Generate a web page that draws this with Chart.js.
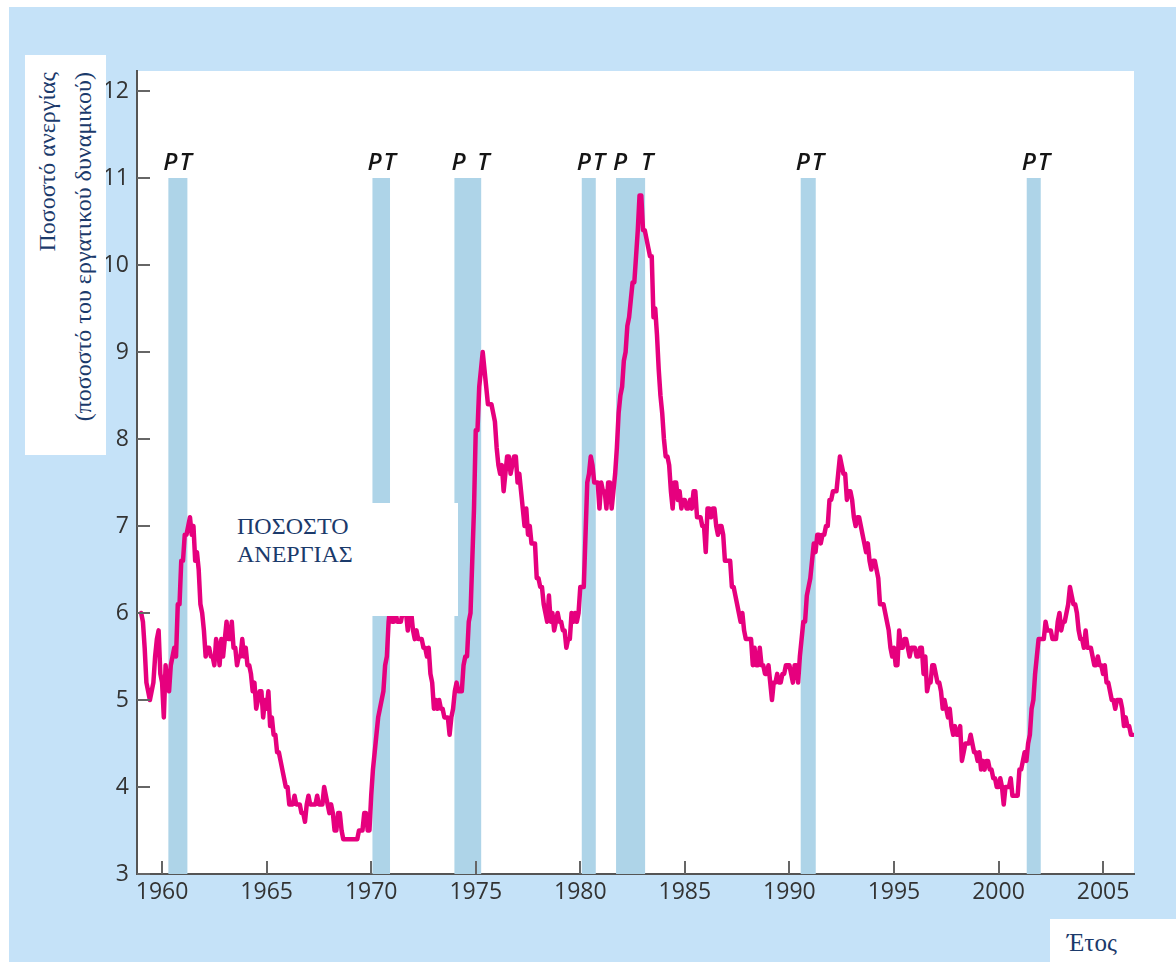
<!DOCTYPE html>
<html>
<head>
<meta charset="utf-8">
<script src="https://cdn.jsdelivr.net/npm/chart.js@4"></script>
<style>
  body { margin: 0; background: #fff; }
  #bg { position: absolute; left: 9px; top: 7px; width: 1167px; height: 955px; background: #c5e2f8; }
  #myChart { position: absolute; left: 0; top: 0; }
  .box { position: absolute; background: #fff; font-family: "Liberation Serif", "Times New Roman", serif; color: #1b3a6b; font-size: 24px; }
  #ytitle { left: 25px; top: 55px; width: 81px; height: 400px; overflow: hidden; }
  #ytitle .inner { position: absolute; left: 0; top: 0; width: 383px; height: 81px; padding-top: 4px; line-height: 36px;
    text-align: right; white-space: nowrap; transform-origin: 0 0; transform: translate(0, 400px) rotate(-90deg); }
  #note { left: 220px; top: 503px; width: 238px; height: 113px; padding: 9px 0 0 17px; box-sizing: border-box; line-height: 28px; }
  #xtitle { left: 1050px; top: 919px; width: 126px; height: 43px; padding: 10px 0 0 17px; box-sizing: border-box; line-height: 28px; font-size: 25px; }
</style>
</head>
<body>
<div id="bg"></div>
<canvas id="myChart" width="1176" height="962"></canvas>
<div class="box" id="ytitle"><div class="inner">Ποσοστό ανεργίας<br>(ποσοστό του εργατικού δυναμικού)</div></div>
<div class="box" id="note">ΠΟΣΟΣΤΟ<br>ΑΝΕΡΓΙΑΣ</div>
<div class="box" id="xtitle">Έτος</div>
<script>
// Μηνιαίο ποσοστό ανεργίας, από Ιαν. 1959
const startYear = 1959;
const rates1959to1964 = [
  6.0, 5.9, 5.6, 5.2, 5.1, 5.0, 5.1, 5.2, 5.5, 5.7, 5.8, 5.3,
  5.2, 4.8, 5.4, 5.2, 5.1, 5.4, 5.5, 5.6, 5.5, 6.1, 6.1, 6.6,
  6.6, 6.9, 6.9, 7.0, 7.1, 6.9, 7.0, 6.6, 6.7, 6.5, 6.1, 6.0,
  5.8, 5.5, 5.6, 5.6, 5.5, 5.5, 5.4, 5.7, 5.6, 5.4, 5.7, 5.5,
  5.7, 5.9, 5.7, 5.7, 5.9, 5.6, 5.6, 5.4, 5.5, 5.5, 5.7, 5.5,
  5.6, 5.4, 5.4, 5.3, 5.1, 5.2, 4.9, 5.0, 5.1, 5.1, 4.8, 5.0
];
const rates1965to1974 = [
  4.9, 5.1, 4.7, 4.8, 4.6, 4.6, 4.4, 4.4, 4.3, 4.2, 4.1, 4.0,
  4.0, 3.8, 3.8, 3.8, 3.9, 3.8, 3.8, 3.8, 3.7, 3.7, 3.6, 3.8,
  3.9, 3.8, 3.8, 3.8, 3.8, 3.9, 3.8, 3.8, 3.8, 4.0, 3.9, 3.8,
  3.7, 3.8, 3.7, 3.5, 3.5, 3.7, 3.7, 3.5, 3.4, 3.4, 3.4, 3.4,
  3.4, 3.4, 3.4, 3.4, 3.4, 3.5, 3.5, 3.5, 3.7, 3.7, 3.5, 3.5,
  3.9, 4.2, 4.4, 4.6, 4.8, 4.9, 5.0, 5.1, 5.4, 5.5, 5.9, 6.1,
  5.9, 5.9, 6.0, 5.9, 5.9, 5.9, 6.0, 6.1, 6.0, 5.8, 6.0, 6.0,
  5.8, 5.7, 5.8, 5.7, 5.7, 5.7, 5.6, 5.6, 5.5, 5.6, 5.3, 5.2,
  4.9, 5.0, 4.9, 5.0, 4.9, 4.9, 4.8, 4.8, 4.8, 4.6, 4.8, 4.9,
  5.1, 5.2, 5.1, 5.1, 5.1, 5.4, 5.5, 5.5, 5.9, 6.0, 6.6, 7.2
];
const rates1975to1984 = [
  8.1, 8.1, 8.6, 8.8, 9.0, 8.8, 8.6, 8.4, 8.4, 8.4, 8.3, 8.2,
  7.9, 7.7, 7.6, 7.7, 7.4, 7.6, 7.8, 7.8, 7.6, 7.7, 7.8, 7.8,
  7.5, 7.6, 7.4, 7.2, 7.0, 7.2, 6.9, 7.0, 6.8, 6.8, 6.8, 6.4,
  6.4, 6.3, 6.3, 6.1, 6.0, 5.9, 6.2, 5.9, 6.0, 5.8, 5.9, 6.0,
  5.9, 5.9, 5.8, 5.8, 5.6, 5.7, 5.7, 6.0, 5.9, 6.0, 5.9, 6.0,
  6.3, 6.3, 6.3, 6.9, 7.5, 7.6, 7.8, 7.7, 7.5, 7.5, 7.5, 7.2,
  7.5, 7.4, 7.4, 7.2, 7.5, 7.5, 7.2, 7.4, 7.6, 7.9, 8.3, 8.5,
  8.6, 8.9, 9.0, 9.3, 9.4, 9.6, 9.8, 9.8, 10.1, 10.4, 10.8, 10.8,
  10.4, 10.4, 10.3, 10.2, 10.1, 10.1, 9.4, 9.5, 9.2, 8.8, 8.5, 8.3,
  8.0, 7.8, 7.8, 7.7, 7.4, 7.2, 7.5, 7.5, 7.3, 7.4, 7.2, 7.3
];
const rates1985to1994 = [
  7.3, 7.2, 7.2, 7.3, 7.2, 7.4, 7.4, 7.1, 7.1, 7.1, 7.0, 7.0,
  6.7, 7.2, 7.2, 7.1, 7.2, 7.2, 7.0, 6.9, 7.0, 7.0, 6.9, 6.6,
  6.6, 6.6, 6.6, 6.3, 6.3, 6.2, 6.1, 6.0, 5.9, 6.0, 5.8, 5.7,
  5.7, 5.7, 5.7, 5.4, 5.6, 5.4, 5.4, 5.6, 5.4, 5.4, 5.3, 5.3,
  5.4, 5.2, 5.0, 5.2, 5.2, 5.3, 5.2, 5.2, 5.3, 5.3, 5.4, 5.4,
  5.4, 5.3, 5.2, 5.4, 5.4, 5.2, 5.5, 5.7, 5.9, 5.9, 6.2, 6.3,
  6.4, 6.6, 6.8, 6.7, 6.9, 6.9, 6.8, 6.9, 6.9, 7.0, 7.0, 7.3,
  7.3, 7.4, 7.4, 7.4, 7.6, 7.8, 7.7, 7.6, 7.6, 7.3, 7.4, 7.4,
  7.3, 7.1, 7.0, 7.1, 7.1, 7.0, 6.9, 6.8, 6.7, 6.8, 6.6, 6.5,
  6.6, 6.6, 6.5, 6.4, 6.1, 6.1, 6.1, 6.0, 5.9, 5.8, 5.6, 5.5
];
const rates1995to2006 = [
  5.6, 5.4, 5.4, 5.8, 5.6, 5.6, 5.7, 5.7, 5.6, 5.5, 5.6, 5.6,
  5.6, 5.5, 5.5, 5.6, 5.6, 5.3, 5.5, 5.1, 5.2, 5.2, 5.4, 5.4,
  5.3, 5.2, 5.2, 5.1, 4.9, 5.0, 4.9, 4.8, 4.9, 4.7, 4.6, 4.7,
  4.6, 4.6, 4.7, 4.3, 4.4, 4.5, 4.5, 4.5, 4.6, 4.5, 4.4, 4.4,
  4.3, 4.4, 4.2, 4.3, 4.2, 4.3, 4.3, 4.2, 4.2, 4.1, 4.1, 4.0,
  4.0, 4.1, 4.0, 3.8, 4.0, 4.0, 4.0, 4.1, 3.9, 3.9, 3.9, 3.9,
  4.2, 4.2, 4.3, 4.4, 4.3, 4.5, 4.6, 4.9, 5.0, 5.3, 5.5, 5.7,
  5.7, 5.7, 5.7, 5.9, 5.8, 5.8, 5.8, 5.7, 5.7, 5.7, 5.9, 6.0,
  5.8, 5.9, 5.9, 6.0, 6.1, 6.3, 6.2, 6.1, 6.1, 6.0, 5.8, 5.7,
  5.7, 5.6, 5.8, 5.6, 5.6, 5.6, 5.5, 5.4, 5.4, 5.5, 5.4, 5.4,
  5.3, 5.4, 5.2, 5.2, 5.1, 5.0, 5.0, 4.9, 5.0, 5.0, 5.0, 4.9,
  4.7, 4.8, 4.7, 4.7, 4.6, 4.6
];

// Υφέσεις: P = κορυφή, T = κατώτατο σημείο
const recessionPeaks   = [1960.30, 1970.06, 1973.98, 1980.07, 1981.71, 1990.54, 2001.35];
const recessionTroughs = [1961.21, 1970.90, 1975.26, 1980.74, 1983.10, 1991.26, 2002.02];
const bandTop = 11;

const yearTicks = [1960, 1965, 1970, 1975, 1980, 1985, 1990, 1995, 2000, 2005];
const rateTicks = [3, 4, 5, 6, 7, 8, 9, 10, 11, 12];

const rates = [].concat(rates1959to1964, rates1965to1974, rates1975to1984, rates1985to1994, rates1995to2006);
const points = rates.map((v, i) => ({ x: startYear + i / 12, y: v }));

const tickFont = { family: '"Open Sans", sans-serif', size: 23 };

// λευκό φόντο στην περιοχή του γραφήματος
const plotBackground = {
  id: 'plotBackground',
  beforeDraw(chart) {
    const a = chart.chartArea, ctx = chart.ctx;
    ctx.save();
    ctx.fillStyle = '#ffffff';
    ctx.fillRect(a.left, a.top, a.right - a.left, a.bottom - a.top);
    ctx.restore();
  }
};

// μπλε λωρίδες υφέσεων και ετικέτες P T
const recessionBands = {
  id: 'recessionBands',
  beforeDatasetsDraw(chart) {
    const ctx = chart.ctx, x = chart.scales.x, y = chart.scales.y;
    const yTop = y.getPixelForValue(bandTop), yBot = y.getPixelForValue(y.min);
    ctx.save();
    recessionPeaks.forEach((p, i) => {
      const x1 = x.getPixelForValue(p), x2 = x.getPixelForValue(recessionTroughs[i]);
      ctx.fillStyle = '#aed4e8';
      ctx.fillRect(x1, yTop, x2 - x1, yBot - yTop);
      ctx.fillStyle = '#151515';
      ctx.font = 'italic 600 24px "Open Sans", sans-serif';
      ctx.textBaseline = 'alphabetic';
      ctx.textAlign = 'left';
      const base = yTop - 8;
      if (x2 - x1 < 22) {
        ctx.letterSpacing = '2px';
        ctx.fillText('PT', x1 - 5, base);
        ctx.letterSpacing = '0px';
      } else {
        ctx.fillText('P', x1 - 3, base);
        ctx.fillText('T', x2 - 4, base);
      }
    });
    ctx.restore();
  }
};

// μικρές γραμμές υποδιαιρέσεων προς τα μέσα
const innerTicks = {
  id: 'innerTicks',
  afterDatasetsDraw(chart) {
    const ctx = chart.ctx, x = chart.scales.x, y = chart.scales.y, a = chart.chartArea;
    ctx.save();
    ctx.strokeStyle = '#666';
    ctx.lineWidth = 2;
    ctx.beginPath();
    x.ticks.forEach(t => {
      const px = Math.round(x.getPixelForValue(t.value));
      ctx.moveTo(px, a.bottom);
      ctx.lineTo(px, a.bottom - 13);
    });
    y.ticks.forEach(t => {
      const py = Math.round(y.getPixelForValue(t.value));
      ctx.moveTo(a.left, py);
      ctx.lineTo(a.left + 13, py);
    });
    ctx.stroke();
    ctx.restore();
  }
};

const ctx = document.getElementById('myChart').getContext('2d');
const chart = new Chart(ctx, {
  type: 'line',
  data: {
    datasets: [{
      data: points,
      borderColor: '#e6007e',
      borderWidth: 4.5,
      pointRadius: 0,
      tension: 0,
      borderJoinStyle: 'round',
      borderCapStyle: 'round'
    }]
  },
  options: {
    responsive: false,
    animation: false,
    devicePixelRatio: 1,
    layout: { padding: { top: 71, right: 42, bottom: 0, left: 0 } },
    plugins: { legend: { display: false }, tooltip: { enabled: false } },
    scales: {
      x: {
        type: 'linear',
        min: 1958.8,
        max: 2006.48,
        grid: { display: false, drawTicks: false },
        border: { display: true, color: '#555', width: 2 },
        ticks: { color: '#333', font: tickFont, padding: 5, maxRotation: 0, callback: v => String(v) },
        afterBuildTicks: s => { s.ticks = yearTicks.map(v => ({ value: v })); },
        afterFit: s => { s.height = 88; }
      },
      y: {
        min: 3,
        max: 12.23,
        grid: { display: false, drawTicks: false },
        border: { display: true, color: '#555', width: 2 },
        ticks: { color: '#333', font: tickFont, padding: 8, callback: v => String(v) },
        afterBuildTicks: s => { s.ticks = rateTicks.map(v => ({ value: v })); },
        afterFit: s => { s.width = 137; }
      }
    }
  },
  plugins: [plotBackground, recessionBands, innerTicks]
});
</script>
</body>
</html>
